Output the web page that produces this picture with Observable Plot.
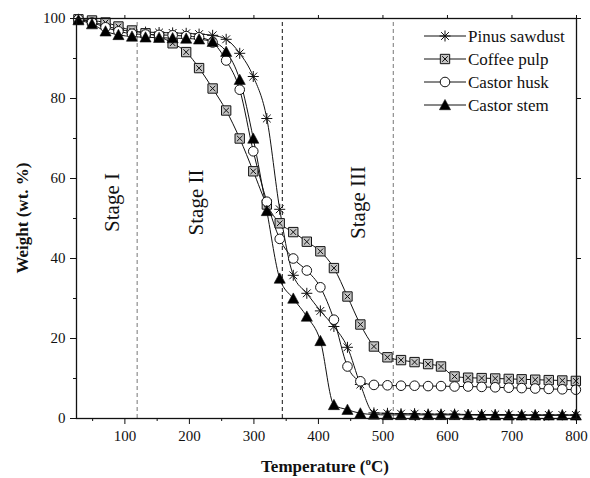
<!DOCTYPE html>
<html><head><meta charset="utf-8">
<script src="https://cdn.jsdelivr.net/npm/d3@7"></script>
<script src="https://cdn.jsdelivr.net/npm/@observablehq/plot@0.6"></script>
<style>
body{margin:0;background:#fff;}
#chart{position:relative;width:590px;height:478px;}
</style></head><body><div id="chart"></div>
<script>
// ---- data ----
const temperature = [28,49,70,90,111,132,153,174,195,215,236,257,278,299,320,340,361,382,403,424,445,465,486,507,528,549,570,590,611,632,653,674,695,715,736,757,778,799];
const pinusSawdust = [99.8,99.2,98.2,97.3,96.8,96.6,96.5,96.4,96.3,96.1,95.8,94.8,91.3,85.5,75.0,52.3,35.8,31.3,26.9,23.0,17.8,8.5,1.4,1.3,1.2,1.2,1.1,1.1,1.1,1.0,1.0,1.0,1.0,0.9,0.9,0.9,0.9,0.9];
const coffeePulp = [99.8,99.5,99.0,98.0,97.0,96.3,95.5,93.8,91.6,87.6,82.5,77.0,70.0,61.8,53.5,48.8,46.6,44.2,41.8,37.6,30.5,23.5,18.0,15.3,14.6,14.1,13.6,13.0,10.5,10.2,10.1,10.0,9.9,9.8,9.7,9.6,9.5,9.4];
const castorHusk = [99.8,99.0,97.8,96.8,96.2,96.0,95.9,95.8,95.6,95.3,94.0,89.5,82.2,66.8,54.2,44.9,40.0,37.0,32.8,24.7,13.0,9.3,8.4,8.3,8.2,8.2,8.1,8.1,8.0,8.0,7.9,7.8,7.7,7.6,7.5,7.4,7.3,7.2];
const castorStem = [99.6,98.6,96.8,95.9,95.5,95.3,95.2,95.1,95.0,94.8,94.2,91.7,84.7,70.0,51.9,35.0,30.0,25.5,19.4,3.4,2.2,1.3,1.0,0.9,0.9,0.9,0.9,0.9,0.9,0.9,0.8,0.8,0.8,0.8,0.8,0.8,0.8,0.8];
const seriesNames = ["Pinus sawdust","Coffee pulp","Castor husk","Castor stem"];
const stageBounds = [119, 344, 516];
const stageLabels = ["Stage I","Stage II","Stage III"];
const stageLabelT = [80, 211, 462];
const stageLabelW = [54, 54, 54];
const xTicks = [100,200,300,400,500,600,700,800];
const xMinor = [50,150,250,350,450,550,650,750];
const yTicks = [0,20,40,60,80,100];
const yMinor = [10,30,50,70,90];

// ---- symbols ----
const rad = size => Math.sqrt(size / Math.PI);
const starSym = {draw(c, size){ const r = rad(size), d = r*Math.SQRT1_2;
  c.moveTo(-r,0);c.lineTo(r,0);c.moveTo(0,-r);c.lineTo(0,r);
  c.moveTo(-d,-d);c.lineTo(d,d);c.moveTo(-d,d);c.lineTo(d,-d);}};
const squareXSym = {draw(c, size){ const s = rad(size)*0.9;
  c.moveTo(-s,-s);c.lineTo(s,-s);c.lineTo(s,s);c.lineTo(-s,s);c.closePath();
  c.moveTo(-s*0.6,-s*0.6);c.lineTo(s*0.6,s*0.6);c.moveTo(-s*0.6,s*0.6);c.lineTo(s*0.6,-s*0.6);}};
const circleSym = {draw(c, size){ const r = rad(size); c.moveTo(r,0); c.arc(0,0,r,0,2*Math.PI);}};
const triSym = {draw(c, size){ const r = rad(size); const h = r*1.05;
  c.moveTo(0,-h);c.lineTo(r*1.05,h*0.85);c.lineTo(-r*1.05,h*0.85);c.closePath();}};

const valuesBySeries = [pinusSawdust, coffeePulp, castorHusk, castorStem];
const symbols = [starSym, squareXSym, circleSym, triSym];
const fills = ["none", "#c4c4c4", "white", "black"];
const rs = [5.5, 5.2, 4.8, 5.3];

const series = seriesNames.map((name, i) =>
  temperature.map((t, j) => ({name, t, w: valuesBySeries[i][j]})));

const serif = "'Liberation Serif', 'Times New Roman', serif";
const marks = [];
// dashed stage boundaries
marks.push(Plot.ruleX(stageBounds, {x: d => d, y1: 0, y2: 100, stroke: (d, i) => i === 1 ? "#111" : "#777", strokeWidth: 1, strokeDasharray: "4,3"}));
// stage labels
marks.push(Plot.text(stageLabels, {x: (d, i) => stageLabelT[i], y: (d, i) => stageLabelW[i], text: d => d, rotate: -90, fontSize: 21, fontFamily: serif, fill: "#111"}));
// lines
series.forEach(s => marks.push(Plot.line(s, {x: "t", y: "w", curve: "monotone-x", stroke: "#111", strokeWidth: 1})));
// markers
series.forEach((s, i) => marks.push(Plot.dot(s, {x: "t", y: "w", symbol: symbols[i], r: rs[i],
  fill: fills[i], stroke: "#111", strokeWidth: i === 3 ? 0.6 : 1})));
// axes
marks.push(Plot.axisX({ticks: xTicks, tickSize: 6, tickPadding: 6, label: null, fontSize: 15, fontFamily: serif}));
marks.push(Plot.axisX({ticks: xMinor, tickSize: 3, tickFormat: () => "", label: null}));
marks.push(Plot.axisX({anchor: "top", ticks: xTicks, tickSize: 4, tickFormat: () => "", label: null}));
marks.push(Plot.axisY({ticks: yTicks, tickSize: 6, tickPadding: 5, label: null, fontSize: 15, fontFamily: serif}));
marks.push(Plot.axisY({ticks: yMinor, tickSize: 3, tickFormat: () => "", label: null}));
marks.push(Plot.axisY({anchor: "right", ticks: yTicks, tickSize: 4, tickFormat: () => "", label: null}));
marks.push(Plot.frame({stroke: "#111", strokeWidth: 1.3}));

const chart = Plot.plot({
  width: 590, height: 478,
  marginLeft: 76, marginRight: 14, marginTop: 18, marginBottom: 60,
  x: {domain: [25, 800]},
  y: {domain: [0, 100]},
  style: {fontFamily: serif, color: "#111", background: "white", overflow: "visible"},
  marks
});
document.getElementById("chart").appendChild(chart);

// ---- titles & legend ----
const svg = d3.select(chart);
svg.append("text").attr("transform", "translate(22,218) rotate(-90)")
  .attr("text-anchor", "middle").attr("dominant-baseline", "central")
  .style("font", `bold 17px ${serif}`).attr("fill", "#111").text("Weight (wt. %)");
const xt = svg.append("text").attr("x", 325).attr("y", 472).attr("text-anchor", "middle")
  .style("font", `bold 17px ${serif}`).attr("fill", "#111");
xt.append("tspan").text("Temperature (");
xt.append("tspan").attr("dy", -7).style("font-size", "11px").text("o");
xt.append("tspan").attr("dy", 7).text("C)");

const lg = svg.append("g").attr("text-anchor", "start");
seriesNames.forEach((name, i) => {
  const y = 36 + i * 23;
  lg.append("line").attr("x1", 424).attr("x2", 466).attr("y1", y).attr("y2", y).attr("stroke", "#111").attr("stroke-width", 1);
  lg.append("path").attr("transform", `translate(445,${y})`)
    .attr("d", d3.symbol(symbols[i], Math.PI * rs[i] * rs[i])())
    .attr("fill", fills[i]).attr("stroke", "#111").attr("stroke-width", i === 3 ? 0.6 : 1);
  lg.append("text").attr("x", 468).attr("y", y).attr("dy", "0.35em").attr("text-anchor", "start")
    .style("font", `17px ${serif}`).attr("fill", "#111").text(name);
});
</script></body></html>
